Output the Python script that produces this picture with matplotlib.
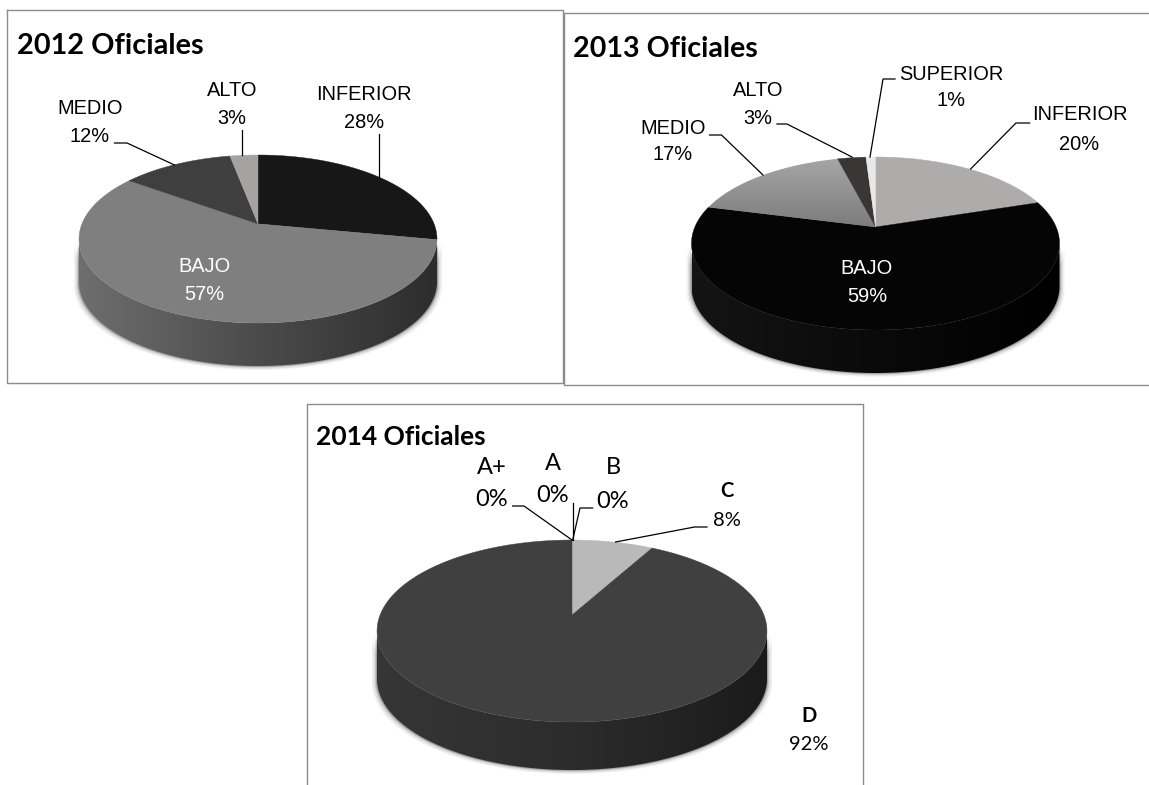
import numpy as np
from matplotlib import pyplot as plt
from matplotlib.colors import LinearSegmentedColormap
from matplotlib.patches import Polygon

# datos
names_2012 = ['INFERIOR', 'BAJO', 'MEDIO', 'ALTO']
values_2012 = [28, 57, 12, 3]
colors_2012 = ['#171717', '#7f7f7f', '#3f3f3f', '#a6a2a2']

names_2013 = ['INFERIOR', 'BAJO', 'MEDIO', 'ALTO', 'SUPERIOR']
values_2013 = [20, 59, 17, 3, 1]
# el sector MEDIO lleva degradado vertical
colors_2013 = ['#aeabab', '#050505', ('#a6a6a6', '#7c7c7c'), '#3a3636', '#e8e8e8']

names_2014 = ['A+', 'A', 'B', 'C', 'D']
values_2014 = [0, 0, 0, 8, 92]
colors_2014 = ['#404040', '#404040', '#404040', '#b9b9b9', '#404040']

SANS = 'Liberation Sans'
LATO = 'Lato'
LINE = '#8c8c8c'

fig = plt.figure(figsize=(11.49, 7.85), dpi=100)
ax = fig.add_axes([0, 0, 1, 1])
ax.set_xlim(0, 1149)
ax.set_ylim(785, 0)
ax.axis('off')


def project(theta, cx, cy, rx, ry, a):
    # circulo en perspectiva, el centro queda desplazado hacia arriba
    X = np.sin(theta)
    Y = np.cos(theta)
    d = 1 + a * Y
    return cx + rx * X * np.sqrt(1 - a ** 2) / d, cy - ry * (Y + a) / d


def draw_pie(values, colors, side, cx, cy, rx, ry, depth, a):
    # sombra difusa y lateral
    t = np.linspace(-np.pi / 2, np.pi / 2, 200)
    for grow, alpha in [(5, 0.05), (3.5, 0.08), (2, 0.12), (1, 0.2)]:
        xs = cx - (rx + grow) * np.sin(t)
        ys = cy + depth + grow * 0.8 + ry * np.cos(t)
        ax.fill(np.r_[xs, xs[::-1]], np.r_[ys, ys[::-1] - depth], color='black',
                alpha=alpha, lw=0, zorder=1)
    xs = cx - rx * np.sin(t)
    ys = cy + ry * np.cos(t)
    outline = np.c_[np.r_[xs, xs[::-1]], np.r_[ys + depth, ys[::-1]]]
    cmap = LinearSegmentedColormap.from_list('side', side)
    im = ax.imshow(np.linspace(0, 1, 256).reshape(1, -1), cmap=cmap, aspect='auto',
                   extent=(cx - rx, cx + rx, cy + ry + depth, cy), zorder=2)
    im.set_clip_path(Polygon(outline, transform=ax.transData))
    # cara superior
    start = 0
    apex_y = cy - ry * a
    for v, c in zip(values, colors):
        if v == 0:
            continue
        frac = np.linspace(start, start + v, 120) / sum(values) * 2 * np.pi
        px, py = project(frac, cx, cy, rx, ry, a)
        px = np.r_[cx, px]
        py = np.r_[apex_y, py]
        if isinstance(c, tuple):
            grad = LinearSegmentedColormap.from_list('top', c)
            im = ax.imshow(np.linspace(0, 1, 128).reshape(-1, 1), cmap=grad, aspect='auto',
                           extent=(px.min(), px.max(), py.max(), py.min()), zorder=3)
            im.set_clip_path(Polygon(np.c_[px, py], transform=ax.transData))
        else:
            ax.fill(px, py, color=c, lw=0.3, ec=c, zorder=3)
        start += v
    ax.set_xlim(0, 1149)
    ax.set_ylim(785, 0)


def leader(xs, ys):
    ax.plot(xs, ys, color='black', lw=0.9, solid_joinstyle='miter', zorder=5)


def label(x, y1, y2, name, value, color='black', family=SANS, size=14.4, bold=False):
    ax.text(x, y1 + 1, name, ha='center', va='center', color=color, family=family, fontsize=size,
            fontweight='bold' if bold else 'normal', zorder=6)
    ax.text(x, y2 + 1, '%d%%' % value, ha='center', va='center', color=color, family=family,
            fontsize=size, zorder=6)


# marcos
ax.plot([7, 563, 563, 7, 7], [10, 10, 383, 383, 10], color=LINE, lw=1)
ax.plot([1149, 564, 564, 1149], [13, 13, 385, 385], color=LINE, lw=1)
ax.plot([307, 307, 863, 863], [785, 404, 404, 785], color=LINE, lw=1)

# 2012
draw_pie(values_2012, colors_2012, ['#6e6e6e', '#4b4b4b', '#2d2d2d'], 258, 239, 179, 84, 43, 0.18)
ax.text(17, 46, '2012 Oficiales', family=LATO, fontweight='bold', fontsize=20.8, va='center')
label(364, 93, 121, names_2012[0], values_2012[0])
label(204, 266, 293, names_2012[1], values_2012[1], color='white')
label(90, 108, 135, names_2012[2], values_2012[2])
label(232, 89, 117, names_2012[3], values_2012[3])
leader([114.5, 127, 174.5], [143, 143, 165])
leader([242, 242], [130, 155])
leader([379, 379], [134, 177])

# 2013
draw_pie(values_2013, colors_2013, ['#141414', '#0a0a0a', '#000000'], 875.5, 243.5, 184, 86.5, 43, 0.19)
ax.text(573, 49, '2013 Oficiales', family=LATO, fontweight='bold', fontsize=20.6, va='center')
label(1079.5, 114, 143, names_2013[0], values_2013[0])
label(867, 267, 295, names_2013[1], values_2013[1], color='white')
label(673, 127, 154, names_2013[2], values_2013[2])
label(758, 89, 117, names_2013[3], values_2013[3])
label(951, 73, 99, names_2013[4], values_2013[4])
leader([1029.6, 1016, 970.6], [123, 123, 169])
leader([709.5, 721.5, 763], [135, 135, 175])
leader([777, 787, 852], [124, 124, 157])
leader([895, 883, 870], [79, 79, 157])

# 2014
draw_pie(values_2014, colors_2014, ['#363636', '#2c2c2c', '#1b1b1b'], 572, 631, 195, 91, 48, 0.176)
ax.text(316, 437, '2014 Oficiales', family=LATO, fontweight='bold', fontsize=19, va='center')
label(492, 466, 498, names_2014[0], values_2014[0], family=LATO, size=17)
label(553, 463, 494, names_2014[1], values_2014[1], family=LATO, size=17)
label(613, 467, 500, names_2014[2], values_2014[2], family=LATO, size=17)
label(726.5, 490, 520, names_2014[3], values_2014[3], family=LATO, size=14.5, bold=True)
label(809, 715, 744, names_2014[4], values_2014[4], family=LATO, size=14.5, bold=True)
leader([512.7, 524, 572], [506, 506, 540])
leader([572.7, 572.7], [503, 540])
leader([592.7, 580, 572.7], [508, 508, 540])
leader([707, 694.5, 615.6], [527, 527, 542])

fig.savefig('out.png', dpi=100)
